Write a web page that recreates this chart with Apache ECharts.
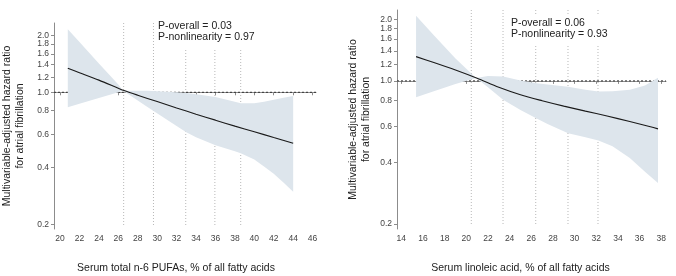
<!DOCTYPE html>
<html>
<head>
<meta charset="utf-8">
<script src="https://cdn.jsdelivr.net/npm/echarts@6/dist/echarts.min.js"></script>
<style>
  html, body { margin: 0; padding: 0; background: #fff; }
  #chart { width: 676px; height: 276px; }
</style>
</head>
<body>
<div id="chart"></div>
<script>
// ---- left panel: serum total n-6 PUFAs ----
const xTicksL = [20, 22, 24, 26, 28, 30, 32, 34, 36, 38, 40, 42, 44, 46];
const fitXL = [20.8, 22, 24, 26, 26.5, 28, 30, 32, 34, 36, 38, 40, 42, 44];
const fitHRL = [1.34, 1.27, 1.16, 1.05, 1.025, 0.965, 0.893, 0.826, 0.766, 0.712, 0.662, 0.618, 0.576, 0.537];
const bandXL = [20.8, 22, 24, 26, 26.5, 27.5, 29, 30.5, 32, 33, 34, 36, 38, 38.6, 40, 41, 42, 43, 44];
const upperL = [2.16, 1.845, 1.42, 1.10, 1.02, 1.02, 1.02, 1.01, 1.0, 0.99, 0.975, 0.945, 0.89, 0.876, 0.875, 0.89, 0.912, 0.935, 0.956];
const lowerL = [0.833, 0.869, 0.934, 1.0, 1.02, 0.94, 0.835, 0.745, 0.662, 0.615, 0.578, 0.524, 0.487, 0.475, 0.44, 0.405, 0.37, 0.333, 0.297];
const quantilesL = [26.55, 29.62, 32.94, 35.94, 38.6];
const pTextL = 'P-overall = 0.03\nP-nonlinearity = 0.97';

// ---- right panel: serum linoleic acid ----
const xTicksR = [14, 16, 18, 20, 22, 24, 26, 28, 30, 32, 34, 36, 38];
const fitXR = [15.36, 17, 19, 21, 23, 25, 27, 29, 31, 33, 35, 37, 37.7];
const fitHRR = [1.314, 1.23, 1.13, 1.03, 0.93, 0.855, 0.80, 0.753, 0.712, 0.674, 0.635, 0.597, 0.583];
const bandXR = [15.36, 17, 19, 20.9, 22, 23.4, 25, 26.5, 27.5, 29.4, 31, 32.2, 33.5, 35.1, 36.5, 37.7];
const upperR = [2.08, 1.669, 1.286, 1.034, 1.058, 1.05, 1.005, 0.975, 0.96, 0.937, 0.905, 0.888, 0.89, 0.905, 0.95, 1.035];
const lowerR = [0.833, 0.891, 0.966, 1.034, 0.93, 0.81, 0.72, 0.655, 0.615, 0.555, 0.53, 0.512, 0.48, 0.42, 0.36, 0.317];
const quantilesR = [20.46, 23.39, 26.41, 29.39, 32.16];
const pTextR = 'P-overall = 0.06\nP-nonlinearity = 0.93';

const yTicks = [0.2, 0.4, 0.6, 0.8, 1.0, 1.2, 1.4, 1.6, 1.8, 2.0];
const yTicksAlt = [1.8];   // labelled on a twin axis so the crowded top labels all stay visible
const refHR = 1.0;
const yTitle = 'Multivariable-adjusted hazard ratio\nfor atrial fibrillation';

const FONT = '"Liberation Sans", Arial, sans-serif';
const bandColor = '#dde5ec';
const axisColor = '#8c8c8c';
const lg = v => Math.log10(v);

function xAxis(gridIndex, min, max, ticks, name, shift) {
  return {
    type: 'value', gridIndex: gridIndex, min: min, max: max,
    name: name, nameLocation: 'middle', nameGap: 34,
    nameTextStyle: { fontFamily: FONT, fontSize: 10.5, color: '#222', padding: [0, shift, 0, 0] },
    axisLine: { show: true, lineStyle: { color: axisColor, width: 1 } },
    axisTick: { show: true, length: 3, customValues: ticks, lineStyle: { color: axisColor } },
    axisLabel: { customValues: ticks, showMinLabel: true, showMaxLabel: true,
      fontFamily: FONT, fontSize: 8.5, color: '#444', margin: 5 },
    splitLine: { show: false }
  };
}

const yLabelStyle = {
  showMinLabel: true, showMaxLabel: true,
  fontFamily: FONT, fontSize: 8.5, color: '#444', margin: 5,
  formatter: v => Math.pow(10, v).toFixed(1)
};

function yAxis(gridIndex, min, max, gap) {
  const labelled = yTicks.filter(t => yTicksAlt.indexOf(t) < 0).map(lg);
  return {
    type: 'value', gridIndex: gridIndex, min: min, max: max, position: 'left',
    name: yTitle, nameLocation: 'middle', nameGap: gap, nameRotate: 90,
    nameTextStyle: { fontFamily: FONT, fontSize: 10.5, color: '#222', lineHeight: 12.5 },
    axisLine: { show: true, lineStyle: { color: axisColor, width: 1 } },
    axisTick: { show: true, length: 3, customValues: yTicks.map(lg), lineStyle: { color: axisColor } },
    axisLabel: Object.assign({ customValues: labelled }, yLabelStyle),
    splitLine: { show: false }
  };
}

function yAxisTwin(gridIndex, min, max) {
  return {
    type: 'value', gridIndex: gridIndex, min: min, max: max, position: 'left', offset: 0,
    axisLine: { show: false }, axisTick: { show: false },
    axisLabel: Object.assign({ customValues: yTicksAlt.map(lg) }, yLabelStyle),
    splitLine: { show: false }
  };
}

// dotted quantile lines and the HR = 1 reference line, drawn below the band
function refLines(idx, quantiles) {
  const items = quantiles.map(q => [q, 0, 0]);
  items.push([0, lg(refHR), 1]);
  return {
    type: 'custom', xAxisIndex: idx, yAxisIndex: idx * 2, z: 1, silent: true,
    data: items,
    renderItem: function (params, api) {
      const r = params.coordSys;
      if (api.value(2) === 0) {
        const x = api.coord([api.value(0), 0])[0];
        return { type: 'line', shape: { x1: x, y1: r.y, x2: x, y2: r.y + r.height - 4 },
          style: { stroke: '#b8b8b8', lineWidth: 1, lineDash: [1, 2] } };
      }
      const y = api.coord([0, api.value(1)])[1];
      return { type: 'line', shape: { x1: r.x, y1: y, x2: r.x + r.width, y2: y },
        style: { stroke: '#333', lineWidth: 1, lineDash: [2, 2] } };
    }
  };
}

function band(idx, xs, lo, hi) {
  return {
    type: 'custom', xAxisIndex: idx, yAxisIndex: idx * 2, z: 2, silent: true,
    data: [[xs[0], 0]],
    renderItem: function (params, api) {
      const pts = [];
      for (let i = 0; i < xs.length; i++) pts.push(api.coord([xs[i], lg(hi[i])]));
      for (let i = xs.length - 1; i >= 0; i--) pts.push(api.coord([xs[i], lg(lo[i])]));
      return { type: 'polygon', shape: { points: pts }, style: { fill: bandColor } };
    }
  };
}

function fit(idx, fx, fy) {
  return {
    type: 'line', xAxisIndex: idx, yAxisIndex: idx * 2, z: 3, silent: true,
    data: fx.map((x, i) => [x, lg(fy[i])]),
    smooth: 0.3, symbol: 'none',
    lineStyle: { color: '#1a1a1a', width: 1.1 }
  };
}

const chart = echarts.init(document.getElementById('chart'), null, { renderer: 'canvas' });
chart.setOption({
  animation: false,
  backgroundColor: '#fff',
  grid: [
    { left: 54, top: 23, width: 262, height: 206, outerBoundsMode: 'none' },
    { left: 397, top: 10, width: 269, height: 219, outerBoundsMode: 'none' }
  ],
  xAxis: [
    xAxis(0, 19.38, 46.35, xTicksL, 'Serum total n-6 PUFAs, % of all fatty acids', 18),
    xAxis(1, 13.6, 38.44, xTicksR, 'Serum linoleic acid, % of all fatty acids', 22)
  ],
  yAxis: [
    yAxis(0, -0.724, 0.367, 28),
    yAxisTwin(0, -0.724, 0.367),
    yAxis(1, -0.7234, 0.3463, 25),
    yAxisTwin(1, -0.7234, 0.3463)
  ],
  graphic: [
    { type: 'text', left: 155, top: 17, z: 100, silent: true,
      style: { text: pTextL, font: '10.5px ' + FONT, fill: '#222', lineHeight: 11.5, backgroundColor: '#fff', padding: [3, 4, 5, 3] } },
    { type: 'text', left: 508, top: 14, z: 100, silent: true,
      style: { text: pTextR, font: '10.5px ' + FONT, fill: '#222', lineHeight: 11.5, backgroundColor: '#fff', padding: [3, 4, 5, 3] } }
  ],
  series: [
    refLines(0, quantilesL),
    band(0, bandXL, lowerL, upperL),
    fit(0, fitXL, fitHRL),
    refLines(1, quantilesR),
    band(1, bandXR, lowerR, upperR),
    fit(1, fitXR, fitHRR)
  ]
});
window.onresize = function () { chart.resize(); };
</script>
</body>
</html>
